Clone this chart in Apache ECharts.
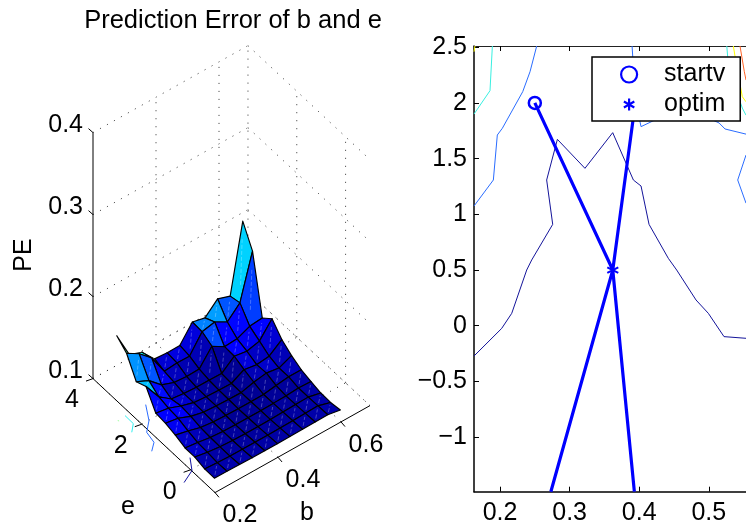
<!DOCTYPE html>
<html>
<head>
<meta charset="utf-8">
<style>html,body{margin:0;padding:0;background:#fff;overflow:hidden}#c{width:746px;height:531px}</style>
<script src="https://cdn.jsdelivr.net/npm/echarts@6/dist/echarts.min.js"></script>
</head>
<body>
<div id="c"></div>
<script>
// ---------- data: surface (left) ----------
var bValues = [0.198,0.238,0.278,0.318,0.358,0.398,0.438,0.478,0.518,0.558,0.598];
var eValues = [-1,-0.6,-0.2,0.2,0.6,1,1.4,1.8,2.2,2.6,3];
// one row per e value, one column per b value
var peValues = [
 [.1180,.1178,.1175,.1170,.1170,.1170,.1170,.1172,.1175,.1178,.1150],
 [.1182,.1172,.1165,.1162,.1162,.1162,.1162,.1165,.1170,.1175,.1130],
 [.1215,.1187,.1168,.1158,.1155,.1155,.1155,.1160,.1165,.1170,.1134],
 [.1215,.1195,.1170,.1158,.1152,.1152,.1152,.1155,.1160,.1170,.1163],
 [.1260,.1225,.1180,.1162,.1155,.1150,.1150,.1152,.1175,.1195,.1195],
 [.1293,.1268,.1205,.1170,.1160,.1152,.1150,.1190,.1215,.1191,.1256],
 [.1305,.1280,.1220,.1175,.1160,.1155,.1150,.1232,.1207,.1224,.1341],
 [.1520,.1309,.1195,.1175,.1165,.1165,.1160,.1285,.1260,.1297,.1484],
 [.1467,.1394,.1256,.1199,.1185,.1190,.1382,.1290,.1300,.1366,.1382],
 [.1703,.1610,.1472,.1224,.1240,.1236,.1447,.1480,.1394,.1541,.2085],
 [.1805,.1488,.1431,.1264,.1252,.1256,.1455,.1419,.1565,.1512,.2341]
];
var colorLimits = [0.1145,0.2341];
var bTicks3d = [0.2,0.4,0.6];
var eTicks3d = [0,2,4];
var zTicks3d = [0.1,0.2,0.3,0.4];
var bLimit3d = [0.2,0.692];
var eLimit3d = [-1,4];
var zLimit3d = [0.1,0.4];
// contour pieces on the floor of the 3-D box: [b,e]
var floorDarkBlue = [[.2247,.343],[.2011,-.043],[.16,-.249]];
var floorBlue = [[.2493,2.477],[.2219,1.988],[.1925,1.703],[.1857,1.316],[.1622,1.105]];
var floorCyan = [[.185,2.494],[.1844,2.147],[.163,1.933]];
var floorGreen = [[.16,2.469],[.162,2.44]];

// ---------- data: contour plot (right) ----------
var xTicks = [0.2,0.3,0.4,0.5];
var yTicks = [-1,-0.5,0,0.5,1,1.5,2,2.5];
var contourDark = [[.1626,-.272],[.2024,-.024],[.2168,.111],[.2383,.5],[.2455,.59],[.2757,.91],[.267,1.308],[.2824,1.673],[.322,1.413],[.3619,1.733],[.3916,1.308],[.4026,1.254],[.4141,.91],[.4418,.605],[.4538,.5],[.4816,.231],[.4993,.111],[.5218,-.098],[.5534,-.113]];
var contourBlueA = [[.1626,1.0745],[.1904,1.308],[.1961,1.712],[.2033,1.772],[.2326,2.101],[.2431,2.28],[.2527,2.511]];
var contourBlueB = [[.3897,2.511],[.3916,2.325],[.3964,1.966],[.4026,1.787],[.4203,1.84],[.47,1.95],[.5147,1.82],[.5233,1.766],[.5534,1.72]];
var contourBlueC = [[.5534,1.532],[.5415,1.308],[.5534,1.10]];
var contourCyanA = [[.1626,1.9],[.1856,2.11],[.189,2.511]];
var contourCyanB = [[.5258,2.511],[.527,2.42],[.54,2.1],[.5481,1.954],[.5534,1.89]];
var contourYellowA = [[.1626,2.46],[.164,2.511]];
var contourYellowB = [[.5352,2.511],[.5376,2.42],[.5481,2.056],[.5534,2.01]];
var contourOrange = [[.5448,2.511],[.551,2.28],[.5534,2.205]];
var searchA = [[.25,2],[.362,.5],[.273,-1.49]];
var searchB = [[.3987,2.2],[.362,.5],[.393,-1.49]];
var startv = [[.25,2]];
var optim = [[.362,.5]];

// ---------- view of the 3-D box ----------
function px(b,e){ return 215 + 315*(b-0.2) - 24.4*(e+1); }
function py(b,e,z){ return 492.6 - 176.8*(b-0.2) - 22.8*(e+1) - 820*(z-0.1); }

var FONT = 'Liberation Sans, Arial, sans-serif', FS = 25;
var cMin = colorLimits[0], cMax = colorLimits[1];
function jet(z){
  var t = Math.max(0,(z-cMin)/(cMax-cMin)), f = function(v){return Math.round(255*Math.max(0,Math.min(1,v)));};
  var r = Math.min(4*t-1.5,-4*t+4.5), g = Math.min(4*t-0.5,-4*t+3.5), b = Math.min(4*t+0.5625,-4*t+2.5);
  return 'rgb('+f(r)+','+f(g)+','+f(b)+')';
}
// faces, far corner first
var faces = [];
for (var i=bValues.length-2;i>=0;i--) for (var j=eValues.length-2;j>=0;j--) faces.push([i,j]);

function renderFace(params,api){
  var i=api.value(0), j=api.value(1);
  function P(a,c){ return api.coord([px(bValues[a],eValues[c]), py(bValues[a],eValues[c],peValues[c][a])]); }
  var f=P(i,j), r=P(i+1,j), k=P(i+1,j+1), l=P(i,j+1);
  var m0=[f[0]+(k[0]-f[0])*.22,f[1]+(k[1]-f[1])*.22], m1=[f[0]+(k[0]-f[0])*.78,f[1]+(k[1]-f[1])*.78];
  return {type:'group',children:[
    {type:'polygon',shape:{points:[f,r,k,l]},style:{fill:jet(peValues[j][i]),stroke:'#000',lineWidth:1.15,lineJoin:'round'}},
    {type:'line',shape:{x1:m0[0],y1:m0[1],x2:m1[0],y2:m1[1]},style:{stroke:'rgba(255,255,255,0.3)',lineWidth:0.9,lineDash:[4,2]},silent:true}
  ]};
}

// box lines: [b1,e1,z1,b2,e2,z2,dotted]
var bL=bLimit3d, eL=eLimit3d, zL=zLimit3d, boxLines=[];
zTicks3d.forEach(function(z){
  boxLines.push([bL[0],eL[1],z,bL[1],eL[1],z,1]);
  boxLines.push([bL[1],eL[1],z,bL[1],eL[0],z,1]);
});
bTicks3d.concat([bL[1]]).forEach(function(b){
  if (b!==bL[0]) boxLines.push([b,eL[1],zL[0],b,eL[1],zL[1],1]);
  boxLines.push([b,eL[0],zL[0],b,eL[1],zL[0],1]);
});
eTicks3d.forEach(function(e){
  if (e!==eL[1]) boxLines.push([bL[1],e,zL[0],bL[1],e,zL[1],1]);
  boxLines.push([bL[0],e,zL[0],bL[1],e,zL[0],1]);
});
boxLines.push([bL[0],eL[1],zL[0],bL[0],eL[1],zL[1],0]);
boxLines.push([bL[0],eL[0],zL[0],bL[0],eL[1],zL[0],0]);
boxLines.push([bL[0],eL[0],zL[0],bL[1],eL[0],zL[0],0]);

function renderBoxLine(params,api){
  var d=boxLines[api.value(0)];
  var a=api.coord([px(d[0],d[1]),py(d[0],d[1],d[2])]), b=api.coord([px(d[3],d[4]),py(d[3],d[4],d[5])]);
  return {type:'line',shape:{x1:a[0],y1:a[1],x2:b[0],y2:b[1]},
    style:d[6]?{stroke:'#333',lineWidth:1,lineDash:[1,7]}:{stroke:'#000',lineWidth:1}};
}
// ticks and tick labels of the 3-D axes
var marks=[];
bTicks3d.forEach(function(b){marks.push({p:[b,eL[0],zL[0]],t:[4,4.7],o:[25,23],s:b.toFixed(1)});});
eTicks3d.forEach(function(e){marks.push({p:[bL[0],e,zL[0]],t:[-7,2.5],o:[-21,22],s:String(e)});});
zTicks3d.forEach(function(z){marks.push({p:[bL[0],eL[1],z],t:[-4.5,-4],o:[-10,-7],s:z.toFixed(1),right:1});});
function renderMark(params,api){
  var m=marks[api.value(0)], a=api.coord([px(m.p[0],m.p[1]),py(m.p[0],m.p[1],m.p[2])]);
  return {type:'group',children:[
    {type:'line',shape:{x1:a[0],y1:a[1],x2:a[0]+m.t[0],y2:a[1]+m.t[1]},style:{stroke:'#000',lineWidth:1}},
    {type:'text',style:{x:a[0]+m.o[0],y:a[1]+m.o[1],text:m.s,fill:'#000',fontSize:FS,fontFamily:FONT,
      align:m.right?'right':'center',verticalAlign:'middle'}}
  ]};
}
var axisNames=[{s:'e',x:128,y:507,rot:0},{s:'b',x:307,y:513,rot:0},{s:'PE',x:24,y:255,rot:Math.PI/2}];
function renderName(params,api){
  var n=axisNames[api.value(0)], a=api.coord([n.x,n.y]);
  return {type:'text',x:a[0],y:a[1],rotation:n.rot,style:{text:n.s,fill:'#000',fontSize:FS,fontFamily:FONT,align:'center',verticalAlign:'middle'}};
}
function floorSeries(points,color){
  return {type:'line',xAxisIndex:0,yAxisIndex:0,silent:true,symbol:'none',z:3,
    data:points.map(function(p){return [px(p[0],p[1]),py(p[0],p[1],zL[0])];}),
    lineStyle:{color:color,width:1},animation:false};
}
function contour(points,color){
  return {type:'line',xAxisIndex:1,yAxisIndex:1,silent:true,symbol:'none',z:3,data:points,
    lineStyle:{color:color,width:1},animation:false};
}
function search(points){
  return {type:'line',xAxisIndex:1,yAxisIndex:1,silent:true,symbol:'none',z:5,data:points,
    lineStyle:{color:'#0000ff',width:3.2},animation:false};
}
function idx(a){return a.map(function(_,n){return [n];});}
var STAR='path://M0 -6L0 6M-5.2 -3L5.2 3M-5.2 3L5.2 -3';
var STAR_KEY='path://M-8 -8L-8 -8M8 8L8 8M0 -6L0 6M-5.2 -3L5.2 3M-5.2 3L5.2 -3';
var chart=echarts.init(document.getElementById('c'),null,{renderer:'canvas'});
var tickX={inside:true,length:5,customValues:xTicks,lineStyle:{color:'#000',width:1}};
chart.setOption({
  animation:false,
  backgroundColor:'#fff',
  title:{text:'Prediction Error of b and e',left:228,top:3,textAlign:'center',
    textStyle:{fontFamily:FONT,fontSize:25.5,fontWeight:'normal',color:'#000'}},
  grid:[
    {left:0,top:0,width:746,height:531,show:false},
    {left:474,top:46,width:272,height:445.7,show:false}
  ],
  xAxis:[
    {gridIndex:0,type:'value',min:0,max:746,show:false},
    {gridIndex:1,type:'value',min:0.1626,max:0.5534,position:'bottom',splitLine:{show:false},
      axisLine:{onZero:false,lineStyle:{color:'#000',width:1.5}},axisTick:tickX,
      axisLabel:{customValues:xTicks,formatter:function(v){return v.toFixed(1);},fontFamily:FONT,fontSize:FS,color:'#000',margin:9}},
    {gridIndex:1,type:'value',min:0.1626,max:0.5534,position:'top',splitLine:{show:false},
      axisLine:{onZero:false,lineStyle:{color:'#222',width:1}},axisTick:tickX,axisLabel:{show:false}}
  ],
  yAxis:[
    {gridIndex:0,type:'value',min:0,max:531,inverse:true,show:false},
    {gridIndex:1,type:'value',min:-1.49,max:2.511,position:'left',splitLine:{show:false},
      axisLine:{onZero:false,lineStyle:{color:'#000',width:1.5}},
      axisTick:{inside:true,length:5,customValues:yTicks,lineStyle:{color:'#000',width:1}},
      axisLabel:{customValues:yTicks,formatter:function(v){return String(v).replace('-','\u2212');},fontFamily:FONT,fontSize:FS,color:'#000',margin:7}}
  ],
  legend:{orient:'vertical',left:592,top:57,padding:[5,15,4,28],itemWidth:16,itemHeight:16,itemGap:5,selectedMode:false,
    backgroundColor:'#fff',borderColor:'#000',borderWidth:1.5,borderRadius:0,z:20,
    textStyle:{fontFamily:FONT,fontSize:FS,color:'#000',padding:[0,0,0,22]},
    data:[
      {name:'startv',icon:'circle',itemStyle:{color:'rgba(0,0,0,0)',borderColor:'#0000ff',borderWidth:2.2}},
      {name:'optim',icon:STAR_KEY,itemStyle:{color:'rgba(0,0,0,0)',borderColor:'#0000ff',borderWidth:2.2}}
    ]},
  series:[
    {type:'custom',xAxisIndex:0,yAxisIndex:0,silent:true,z:1,clip:false,data:idx(boxLines),renderItem:renderBoxLine},
    {type:'custom',xAxisIndex:0,yAxisIndex:0,silent:true,z:2,clip:false,data:idx(marks),renderItem:renderMark},
    {type:'custom',xAxisIndex:0,yAxisIndex:0,silent:true,z:2,clip:false,data:idx(axisNames),renderItem:renderName},
    floorSeries(floorDarkBlue,'#1414a0'),floorSeries(floorBlue,'#2a6cff'),floorSeries(floorCyan,'#30f0f0'),floorSeries(floorGreen,'#a0ffa0'),
    {type:'custom',xAxisIndex:0,yAxisIndex:0,silent:true,z:4,clip:false,data:faces,renderItem:renderFace},
    contour(contourDark,'#14149a'),contour(contourBlueA,'#2a6cff'),contour(contourBlueB,'#2a6cff'),contour(contourBlueC,'#2a6cff'),
    contour(contourCyanA,'#38efe0'),contour(contourCyanB,'#38efe0'),contour(contourYellowA,'#ffff00'),contour(contourYellowB,'#ffff00'),contour(contourOrange,'#ff6428'),
    search(searchA),search(searchB),
    {name:'startv',type:'scatter',xAxisIndex:1,yAxisIndex:1,silent:true,z:6,data:startv,symbol:'circle',symbolSize:12,
      itemStyle:{color:'rgba(0,0,0,0)',borderColor:'#0000ff',borderWidth:2.5,opacity:1}},
    {name:'optim',type:'scatter',xAxisIndex:1,yAxisIndex:1,silent:true,z:6,data:optim,symbol:STAR,symbolSize:11,
      itemStyle:{color:'rgba(0,0,0,0)',borderColor:'#0000ff',borderWidth:2,opacity:1}}
  ]
});
</script>
</body>
</html>
